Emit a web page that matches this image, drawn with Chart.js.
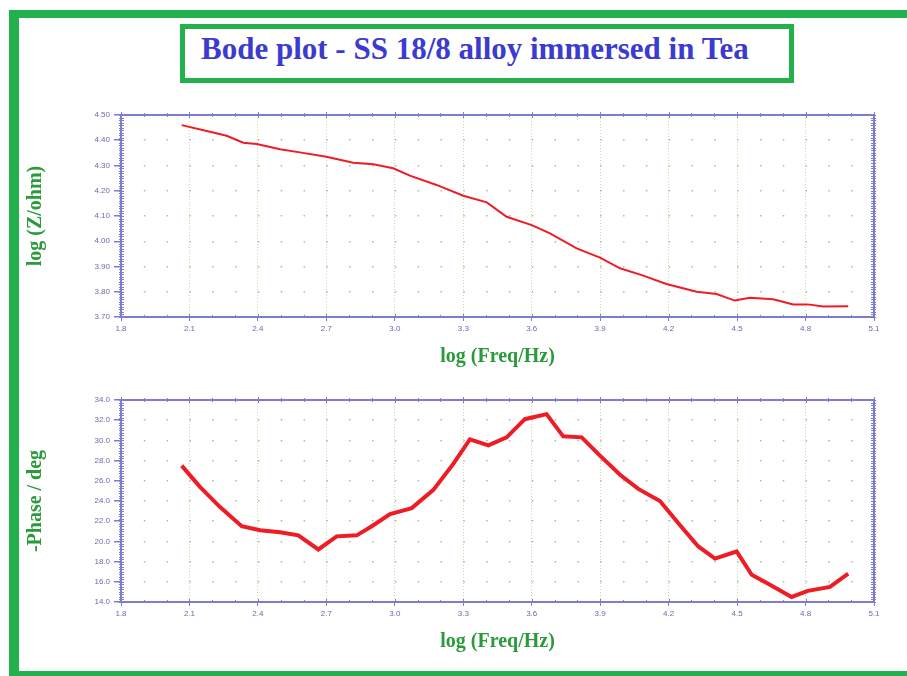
<!DOCTYPE html>
<html>
<head>
<meta charset="utf-8">
<script src="https://cdn.jsdelivr.net/npm/chart.js@4.4.0/dist/chart.umd.min.js"></script>
<style>
  body { margin: 0; background: #fff; width: 907px; height: 676px; overflow: hidden; position: relative; }
  #frameTop { position: absolute; left: 9px; top: 10px; width: 898px; height: 8px; background: #22b14c; }
  #frameLeft { position: absolute; left: 9px; top: 10px; width: 10px; height: 666px; background: #22b14c; }
  #frameBottom { position: absolute; left: 9px; top: 671px; width: 898px; height: 5px; background: #22b14c; }
  #titleBox { position: absolute; left: 180px; top: 24px; width: 614px; height: 59px; box-sizing: border-box;
    border: 5px solid #22b14c; text-align: left; padding-left: 16px; font: bold 31px "Liberation Serif", serif;
    color: #3b3bcf; line-height: 40px; }
  .wrap { position: absolute; left: 0; width: 907px; height: 280px; }
</style>
</head>
<body>
<div id="frameTop"></div>
<div id="frameLeft"></div>
<div id="frameBottom"></div>
<div id="titleBox">Bode plot - SS 18/8 alloy immersed in Tea</div>
<div class="wrap" style="top:100px"><canvas id="zChart"></canvas></div>
<div class="wrap" style="top:385px"><canvas id="phChart"></canvas></div>
<script>
// values
var logFreqZ = [2.066, 2.19, 2.263, 2.336, 2.395, 2.497, 2.584, 2.70, 2.818, 2.906, 2.993, 3.066, 3.183, 3.30, 3.403,
    3.49, 3.60, 3.68, 3.797, 3.899, 3.987, 4.089, 4.19, 4.323, 4.41, 4.49, 4.556, 4.658, 4.746, 4.81, 4.878, 4.987];
var logZ = [4.460, 4.434, 4.418, 4.390, 4.385, 4.364, 4.352, 4.335, 4.311, 4.305, 4.289, 4.260, 4.223, 4.180, 4.154,
    4.097, 4.064, 4.031, 3.972, 3.935, 3.893, 3.864, 3.831, 3.800, 3.791, 3.765, 3.776, 3.770, 3.750, 3.750, 3.742, 3.743];

var logFreqPh = [2.066, 2.146, 2.234, 2.329, 2.41, 2.497, 2.577, 2.665, 2.745, 2.833, 2.899, 2.979, 3.074, 3.169, 3.257,
    3.329, 3.41, 3.49, 3.57, 3.665, 3.738, 3.819, 3.899, 3.987, 4.067, 4.162, 4.25, 4.33, 4.403, 4.498, 4.564, 4.644,
    4.739, 4.81, 4.907, 4.987];
var phase = [27.5, 25.4, 23.4, 21.5, 21.1, 20.9, 20.6, 19.2, 20.5, 20.6, 21.5, 22.7, 23.3, 25.1, 27.7,
    30.1, 29.5, 30.3, 32.1, 32.6, 30.4, 30.3, 28.5, 26.6, 25.2, 24.0, 21.6, 19.5, 18.3, 19.0, 16.7, 15.7,
    14.5, 15.1, 15.5, 16.8];

var freqTicks = [1.8, 2.1, 2.4, 2.7, 3.0, 3.3, 3.6, 3.9, 4.2, 4.5, 4.8, 5.1];
var zTicks = [3.70, 3.80, 3.90, 4.00, 4.10, 4.20, 4.30, 4.40, 4.50];
var phaseTicks = [14.0, 16.0, 18.0, 20.0, 22.0, 24.0, 26.0, 28.0, 30.0, 32.0, 34.0];

var axisBlue = '#7c7cd0';
var labelBlue = '#6a6ab4';
var titleGreen = '#2a9a3a';

function toPoints(xs, ys) {
    var pts = [];
    for (var i = 0; i < xs.length; i++) pts.push({x: xs[i], y: ys[i]});
    return pts;
}

// blue box round the plot with small ticks, like the original software draws
var framePlugin = {
    id: 'frame',
    afterDatasetsDraw: function(chart, args, opts) {
        var ctx = chart.ctx, a = chart.chartArea;
        var x = chart.scales.x, y = chart.scales.y;
        ctx.save();
        ctx.strokeStyle = axisBlue;
        ctx.lineWidth = 1;
        ctx.beginPath();
        for (var k = 0; k <= 33; k++) {
            var v = 1.8 + k * 0.1;
            var px = Math.round(x.getPixelForValue(v)) + 0.5;
            var len = (k % 3 == 0) ? 3 : 2;
            ctx.moveTo(px, a.top - len); ctx.lineTo(px, a.top + len);
            ctx.moveTo(px, a.bottom - len); ctx.lineTo(px, a.bottom + 1);
        }
        var n = Math.round((y.max - y.min) / opts.minorStep);
        for (var j = 0; j <= n; j++) {
            var py = Math.round(y.getPixelForValue(y.min + j * opts.minorStep)) + 0.5;
            ctx.moveTo(a.left - 2, py); ctx.lineTo(a.left + 3, py);
            ctx.moveTo(a.right - 3, py); ctx.lineTo(a.right + 2, py);
        }
        ctx.stroke();
        ctx.lineWidth = 2;
        ctx.strokeRect(a.left, a.top, a.right - a.left, a.bottom - a.top);
        ctx.restore();
    }
};

function makeChart(id, xs, ys, yTicks, yTitle, digits, width, minorStep) {
    return new Chart(document.getElementById(id), {
        type: 'line',
        data: {
            datasets: [{
                data: toPoints(xs, ys),
                borderColor: '#ee1c24',
                borderWidth: width,
                pointRadius: 0,
                tension: 0,
                fill: false
            }]
        },
        options: {
            responsive: true,
            maintainAspectRatio: false,
            animation: false,
            events: [],
            layout: { padding: { left: 0, right: 33, top: 15, bottom: 0 } },
            plugins: {
                legend: { display: false },
                tooltip: { enabled: false },
                frame: { minorStep: minorStep }
            },
            scales: {
                x: {
                    type: 'linear',
                    min: freqTicks[0],
                    max: freqTicks[freqTicks.length - 1],
                    afterBuildTicks: function(s) { s.ticks = freqTicks.map(function(v) { return {value: v}; }); },
                    afterFit: function(s) { s.height = 63; },
                    border: { display: false, dash: [1, 2] },
                    grid: {
                        color: '#c6dca0',
                        tickColor: axisBlue,
                        tickLength: 4,
                        tickBorderDash: []
                    },
                    ticks: {
                        color: labelBlue,
                        font: { family: 'Liberation Sans', size: 8 },
                        padding: 3,
                        maxRotation: 0,
                        callback: function(v) { return Number(v).toFixed(1); }
                    },
                    title: {
                        display: true,
                        text: 'log (Freq/Hz)',
                        color: titleGreen,
                        font: { family: 'Liberation Serif', size: 20, weight: 'bold' },
                        padding: { top: 0, bottom: 11 }
                    }
                },
                y: {
                    min: yTicks[0],
                    max: yTicks[yTicks.length - 1],
                    afterBuildTicks: function(s) { s.ticks = yTicks.map(function(v) { return {value: v}; }); },
                    afterFit: function(s) { s.width = 121; },
                    border: { display: false, dash: [1.5, 21.32] },
                    grid: {
                        color: '#b4b4b4',
                        lineWidth: 1.5,
                        tickColor: axisBlue,
                        tickLength: 7,
                        tickBorderDash: []
                    },
                    ticks: {
                        color: labelBlue,
                        font: { family: 'Liberation Sans', size: 8 },
                        padding: 4,
                        callback: function(v) { return Number(v).toFixed(digits); }
                    },
                    title: {
                        display: true,
                        text: yTitle,
                        color: titleGreen,
                        font: { family: 'Liberation Serif', size: 20, weight: 'bold' },
                        padding: { top: 24, bottom: 0 }
                    }
                }
            }
        },
        plugins: [framePlugin]
    });
}

makeChart('zChart', logFreqZ, logZ, zTicks, 'log (Z/ohm)', 2, 2, 0.01);
makeChart('phChart', logFreqPh, phase, phaseTicks, '-Phase / deg', 1, 4, 0.25);
</script>
</body>
</html>
